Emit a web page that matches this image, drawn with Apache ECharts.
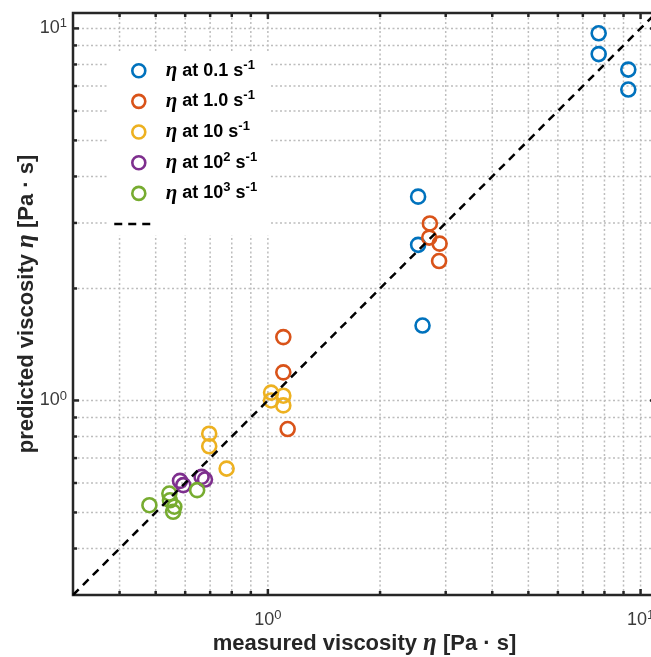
<!DOCTYPE html>
<html lang="en">
<head>
<meta charset="UTF-8">
<title>viscosity</title>
<style>
  html, body { margin: 0; padding: 0; background: #fff; }
  #main { width: 651px; height: 657px; }
</style>
</head>
<body>
<div id="main"></div>
<script src="https://cdn.jsdelivr.net/npm/echarts@6/dist/echarts.min.js"></script>
<script>
// measured / predicted viscosity per shear rate
var rate01Measured  = [7.72, 7.72, 9.27, 9.27, 2.53, 2.53, 2.60];
var rate01Predicted = [9.70, 8.53, 7.75, 6.85, 3.53, 2.62, 1.59];
var rate1Measured   = [2.72, 2.71, 2.89, 2.88, 1.10, 1.10, 1.13];
var rate1Predicted  = [2.99, 2.74, 2.64, 2.37, 1.48, 1.19, 0.838];
var rate10Measured  = [1.02, 1.10, 1.02, 1.10, 0.696, 0.696, 0.775];
var rate10Predicted = [1.05, 1.03, 1.00, 0.97, 0.814, 0.753, 0.656];
var rate100Measured  = [0.581, 0.593, 0.664, 0.678];
var rate100Predicted = [0.608, 0.592, 0.623, 0.613];
var rate1000Measured  = [0.481, 0.544, 0.546, 0.561, 0.557, 0.646];
var rate1000Predicted = [0.523, 0.562, 0.539, 0.518, 0.502, 0.574];

var seriesNames = ['rate01', 'rate1', 'rate10', 'rate100', 'rate1000'];
var legendLabels = [
  '{e|η}{t| at 0.1 s}{s|-1}',
  '{e|η}{t| at 1.0 s}{s|-1}',
  '{e|η}{t| at 10 s}{s|-1}',
  '{e|η}{t| at 10}{s|2}{t| s}{s|-1}',
  '{e|η}{t| at 10}{s|3}{t| s}{s|-1}'
];
var colors = ['#0072BD', '#D95319', '#EDB120', '#7E2F8E', '#77AC30'];

var axisRange = [0.3, 11];
var refLine = [0.3, 11];
var gridTicks = [0.4, 0.5, 0.6, 0.7, 0.8, 0.9, 1, 2, 3, 4, 5, 6, 7, 8, 9, 10];
var decadeLabels = { 1: '0', 10: '1' };

var measured = [rate01Measured, rate1Measured, rate10Measured, rate100Measured, rate1000Measured];
var predicted = [rate01Predicted, rate1Predicted, rate10Predicted, rate100Predicted, rate1000Predicted];

function isDecade(v) {
  var l = Math.log10(v);
  return Math.abs(l - Math.round(l)) < 1e-9;
}

var frameColor = '#262626';
var richTxt = {
  t: { fontFamily: 'Liberation Sans', fontWeight: 'bold', fontSize: 18, color: '#000', lineHeight: 24 },
  e: { fontFamily: 'Liberation Serif', fontStyle: 'italic', fontWeight: 'bold', fontSize: 21, color: '#000', lineHeight: 24 },
  s: { fontFamily: 'Liberation Sans', fontWeight: 'bold', fontSize: 13, color: '#000', verticalAlign: 'top', lineHeight: 12 }
};
var tickRich = {
  b: { fontFamily: 'Liberation Sans', fontSize: 18, color: '#3a3a3a', lineHeight: 22 },
  s: { fontFamily: 'Liberation Sans', fontSize: 13, color: '#3a3a3a', verticalAlign: 'top', lineHeight: 12 }
};
var nameRich = {
  t: { fontFamily: 'Liberation Sans', fontWeight: 'bold', fontSize: 22, color: '#262626' },
  e: { fontFamily: 'Liberation Serif', fontStyle: 'italic', fontWeight: 'bold', fontSize: 25, color: '#262626' }
};

function tickFormatter(v) {
  for (var k in decadeLabels) {
    if (Math.abs(v - Number(k)) < 1e-9) return '{b|10}{s|' + decadeLabels[k] + '}';
  }
  return '';
}

function vGrid(params, api) {
  var cs = params.coordSys;
  var px = api.coord([api.value(0), 1])[0];
  var len = isDecade(api.value(0)) ? 6 : 4;
  var top = cs.y, bot = cs.y + cs.height;
  return { type: 'group', children: [
    { type: 'line', shape: { x1: px, y1: top, x2: px, y2: bot }, style: { stroke: '#bdbdbd', lineWidth: 1.5, lineDash: [2, 2.5] } },
    { type: 'line', shape: { x1: px, y1: bot, x2: px, y2: bot - len }, style: { stroke: frameColor, lineWidth: 2.5 } },
    { type: 'line', shape: { x1: px, y1: top, x2: px, y2: top + len }, style: { stroke: frameColor, lineWidth: 2.5 } }
  ]};
}
function hGrid(params, api) {
  var cs = params.coordSys;
  var py = api.coord([1, api.value(1)])[1];
  var len = isDecade(api.value(1)) ? 6 : 4;
  var left = cs.x, right = cs.x + cs.width;
  return { type: 'group', children: [
    { type: 'line', shape: { x1: left, y1: py, x2: right, y2: py }, style: { stroke: '#bdbdbd', lineWidth: 1.5, lineDash: [2, 2.5] } },
    { type: 'line', shape: { x1: left, y1: py, x2: left + len, y2: py }, style: { stroke: frameColor, lineWidth: 2.5 } },
    { type: 'line', shape: { x1: right, y1: py, x2: right - len, y2: py }, style: { stroke: frameColor, lineWidth: 2.5 } }
  ]};
}

var series = [
  { type: 'custom', renderItem: vGrid, data: gridTicks.map(function (v) { return [v, 1]; }), z: 1, silent: true },
  { type: 'custom', renderItem: hGrid, data: gridTicks.map(function (v) { return [1, v]; }), z: 1, silent: true }
];
seriesNames.forEach(function (name, i) {
  series.push({
    name: name,
    type: 'scatter',
    symbol: 'circle',
    symbolSize: 14,
    itemStyle: { color: 'rgba(0,0,0,0)', borderColor: colors[i], borderWidth: 2.6, opacity: 1 },
    data: measured[i].map(function (m, j) { return [m, predicted[i][j]]; }),
    z: 3
  });
});
series.push({
  name: ' ',
  type: 'line',
  symbol: 'none',
  data: [[refLine[0], refLine[0]], [refLine[1], refLine[1]]],
  lineStyle: { color: '#000', width: 2.5, type: [8, 6] },
  z: 4
});

var myChart = echarts.init(document.getElementById('main'));
var option = {
  animation: false,
  backgroundColor: '#fff',
  grid: {
    left: 73, top: 13, width: 583, height: 582,
    outerBoundsMode: 'none', containLabel: false,
    show: true, borderColor: frameColor, borderWidth: 2.5, backgroundColor: '#fff'
  },
  xAxis: {
    type: 'log', logBase: 10, min: axisRange[0], max: axisRange[1],
    axisLine: { show: false }, axisTick: { show: false }, splitLine: { show: false },
    axisLabel: { formatter: tickFormatter, rich: tickRich, margin: 14, showMinLabel: false, showMaxLabel: false },
    name: '{t|measured viscosity }{e|η}{t| [Pa · s]}',
    nameLocation: 'middle', nameGap: 36, nameMoveOverlap: false,
    nameTextStyle: { rich: nameRich }
  },
  yAxis: {
    type: 'log', logBase: 10, min: axisRange[0], max: axisRange[1],
    axisLine: { show: false }, axisTick: { show: false }, splitLine: { show: false },
    axisLabel: { formatter: tickFormatter, rich: tickRich, margin: 6, showMinLabel: false, showMaxLabel: false },
    name: '{t|predicted viscosity }{e|η}{t| [Pa · s]}',
    nameLocation: 'middle', nameGap: 34, nameMoveOverlap: false,
    nameTextStyle: { rich: nameRich }
  },
  legend: [{
    orient: 'vertical', left: 108, top: 52,
    padding: [6.7, 12, 30, 23],
    itemWidth: 44, itemHeight: 13, itemGap: 6.67,
    backgroundColor: '#fff', selectedMode: false, z: 4,
    icon: 'circle',
    data: seriesNames.map(function (n, i) {
      return { name: n, itemStyle: { color: 'rgba(0,0,0,0)', borderColor: colors[i], borderWidth: 2.6 } };
    }),
    formatter: function (name) { return legendLabels[seriesNames.indexOf(name)]; },
    textStyle: { rich: richTxt, lineHeight: 24 }
  }, {
    orient: 'vertical', left: 113, top: 217, padding: 0,
    itemWidth: 37, itemHeight: 14, selectedMode: false, z: 5,
    data: [{ name: ' ' }],
    itemStyle: { opacity: 0 },
    lineStyle: { color: '#000', width: 2.5, type: [8, 6], opacity: 1 },
    textStyle: { fontSize: 12, lineHeight: 14 }
  }],
  series: series
};
myChart.setOption(option);
</script>
</body>
</html>
